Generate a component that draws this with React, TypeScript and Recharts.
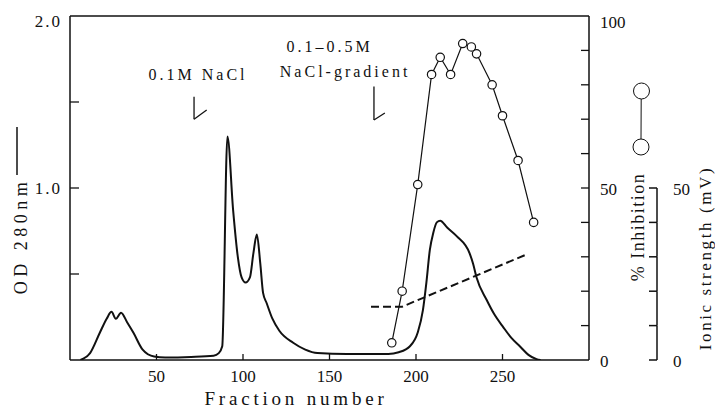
import React from 'react';
import { ComposedChart, Line, XAxis, YAxis, ReferenceLine, ReferenceDot } from 'recharts';

const FONT = '"Liberation Serif", "DejaVu Serif", serif';
const INK = '#111';

// ---- OD 280nm elution profile (solid line) ----
const odFraction = [6, 11.6, 17.3, 21.2, 24, 26.5, 29.5, 33, 36.6, 42, 48.6, 55, 70, 83, 86, 88, 91, 94.3, 97, 99.2, 101.5, 104, 106, 108, 110, 111.6, 113.7, 117, 121, 129, 136, 143, 160, 184, 190, 196.5, 201, 204, 206, 208, 210, 212, 214, 218, 223.5, 231, 233, 235, 240.8, 245, 250.5, 255, 260, 265, 269.7, 272];
const odValue = [0, 0.04, 0.16, 0.24, 0.28, 0.24, 0.275, 0.22, 0.16, 0.06, 0.02, 0.015, 0.018, 0.025, 0.04, 0.08, 1.3, 0.87, 0.6, 0.48, 0.45, 0.48, 0.62, 0.73, 0.56, 0.39, 0.33, 0.24, 0.17, 0.1, 0.06, 0.04, 0.035, 0.035, 0.045, 0.08, 0.16, 0.29, 0.45, 0.64, 0.74, 0.8, 0.81, 0.77, 0.72, 0.62, 0.56, 0.48, 0.35, 0.27, 0.19, 0.13, 0.08, 0.03, 0.005, 0];

// ---- % Inhibition (open circles) ----
const inhFraction = [186, 192, 201, 209, 214, 220, 227, 232, 235, 244, 250, 259, 268];
const inhValue = [5, 20, 51, 83, 88, 83, 92, 91, 89, 80, 71, 58, 40];

// ---- Ionic strength (dashed) ----
const ionFraction = [174, 192, 264];
const ionValue = [15.5, 15.5, 30.7];

// ---- axis ticks ----
const xTicks = [50, 100, 150, 200, 250];
const xTickLabels = ['50', '100', '150', '200', '250'];
const odTicks = [0, 0.5, 1, 1.5, 2];
const odTickLabels = ['', '', '1.0', '', '2.0'];
const inhTicks = [0, 10, 20, 30, 40, 50, 60, 70, 80, 90, 100];
const inhTickLabels = ['0', '', '', '', '', '50', '', '', '', '', '100'];
const ionTicks = [0, 10, 20, 30, 40, 50];
const ionTickLabels = ['0', '', '', '', '', '50'];

// ---- annotations (buffer changes) ----
const noteText = ['0.1M NaCl', '0.1–0.5M', 'NaCl-gradient'];
const noteFraction = [74, 150, 159];
const noteOD = [1.657, 1.822, 1.676];
const arrowFraction = [71.7, 175.7];
const arrowTopOD = [1.53, 1.59];
const arrowBottomOD = [1.4, 1.395];
const arrowHeadFraction = [79, 182];
const arrowHeadOD = [1.453, 1.436];

const odData = odFraction.map((f, i) => ({ f, od: odValue[i] }));
const inhData = inhFraction.map((f, i) => ({ f, inh: inhValue[i] }));
const ionData = ionFraction.map((f, i) => ({ f, ion: ionValue[i] }));

const W = 715;
const H = 408;
const M = { top: 16, right: 57, bottom: 47, left: 69 };
const PLOT_H = H - M.top - M.bottom - 1;

const textStyle = { fontFamily: FONT, fill: INK } as const;

const T = (props: any) => <text fontFamily={FONT} fill={INK} style={textStyle} {...props} />;

const XTick = (p: any) => {
  const { x, y, payload } = p;
  const i = xTicks.indexOf(payload.value);
  return (
    <g>
      <line x1={x} y1={y} x2={x} y2={y - 6} stroke={INK} strokeWidth={1.3} />
      <T x={x} y={y + 16} textAnchor="middle" dominantBaseline="central" fontSize={17}>
        {xTickLabels[i]}
      </T>
    </g>
  );
};

const OdTick = (p: any) => {
  const { x, y, payload } = p;
  const v = payload.value;
  const i = odTicks.indexOf(v);
  const label = odTickLabels[i];
  return (
    <g>
      {v > 0 && v < 2 && <line x1={x} y1={y} x2={x + 9} y2={y} stroke={INK} strokeWidth={1.3} />}
      {label && (
        <T x={x - 8} y={v === 2 ? y + 5 : y} textAnchor="end" dominantBaseline="central" fontSize={17} letterSpacing={2}>
          {label}
        </T>
      )}
    </g>
  );
};

const InhTick = (p: any) => {
  const { x, y, payload } = p;
  const v = payload.value;
  const i = inhTicks.indexOf(v);
  const label = inhTickLabels[i];
  return (
    <g>
      {v > 0 && v < 100 && <line x1={x} y1={y} x2={x - 8} y2={y} stroke={INK} strokeWidth={1.3} />}
      {label && (
        <T x={x + 11} y={v === 100 ? y + 6 : y + 1} textAnchor="start" dominantBaseline="central" fontSize={17}>
          {label}
        </T>
      )}
    </g>
  );
};

const IonTick = (p: any) => {
  const { x, y, payload } = p;
  const v = payload.value;
  const i = ionTicks.indexOf(v);
  if (i < 0) return <g />;
  const label = ionTickLabels[i];
  const step = (PLOT_H / 100) * 10;
  return (
    <g>
      <line x1={x} y1={y} x2={x - 8} y2={y} stroke={INK} strokeWidth={1.5} />
      {v < 50 && <line x1={x} y1={y} x2={x} y2={y - step} stroke={INK} strokeWidth={1.5} />}
      {label && (
        <T x={x + 16} y={y + 1} textAnchor="start" dominantBaseline="central" fontSize={17}>
          {label}
        </T>
      )}
    </g>
  );
};

const OpenCircle = (p: any) => {
  const { cx, cy } = p;
  if (cx == null || cy == null) return <g />;
  return <circle cx={cx} cy={cy} r={4.2} fill="#fff" stroke={INK} strokeWidth={1.2} />;
};

const noteLabel = (text: string) => (props: any) => {
  const vb = props.viewBox || {};
  return (
    <T x={vb.x} y={vb.y} textAnchor="middle" dominantBaseline="central" fontSize={16} letterSpacing={3}>
      {text}
    </T>
  );
};

export default function App() {
  return (
    <div style={{ position: 'absolute', left: 0, top: 0, width: W, height: H, background: '#fff' }}>
      <ComposedChart width={W} height={H} margin={M}>
        <XAxis
          type="number"
          dataKey="f"
          domain={[0, 300]}
          ticks={xTicks}
          interval={0}
          height={1}
          tickSize={0}
          tickMargin={0}
          tickLine={false}
          tick={(p: any) => <XTick {...p} />}
          axisLine={{ stroke: INK, strokeWidth: 1.5 }}
          allowDataOverflow
        />
        <YAxis
          yAxisId="od"
          orientation="left"
          width={1}
          domain={[0, 2]}
          ticks={odTicks}
          interval={0}
          tickSize={0}
          tickMargin={0}
          tickLine={false}
          tick={(p: any) => <OdTick {...p} />}
          axisLine={{ stroke: INK, strokeWidth: 1.5 }}
          allowDataOverflow
        />
        <YAxis
          yAxisId="inh"
          orientation="right"
          width={68}
          domain={[0, 100]}
          ticks={inhTicks}
          interval={0}
          tickSize={0}
          tickMargin={0}
          tickLine={false}
          tick={(p: any) => <InhTick {...p} />}
          axisLine={{ stroke: INK, strokeWidth: 1.5 }}
          allowDataOverflow
        />
        <YAxis
          yAxisId="ion"
          orientation="right"
          width={1}
          domain={[0, 100]}
          ticks={ionTicks}
          interval={0}
          tickSize={0}
          tickMargin={0}
          tickLine={false}
          tick={(p: any) => <IonTick {...p} />}
          axisLine={false}
          allowDataOverflow
        />
        <ReferenceLine yAxisId="od" y={2} stroke={INK} strokeWidth={1.5} />

        {arrowFraction.map((f, i) => (
          <ReferenceLine
            key={'av' + i}
            yAxisId="od"
            segment={[{ x: f, y: arrowTopOD[i] }, { x: f, y: arrowBottomOD[i] }]}
            stroke={INK}
            strokeWidth={1.3}
          />
        ))}
        {arrowFraction.map((f, i) => (
          <ReferenceLine
            key={'ah' + i}
            yAxisId="od"
            segment={[{ x: f, y: arrowBottomOD[i] }, { x: arrowHeadFraction[i], y: arrowHeadOD[i] }]}
            stroke={INK}
            strokeWidth={1.3}
          />
        ))}
        {noteText.map((t, i) => (
          <ReferenceDot
            key={'n' + i}
            yAxisId="od"
            x={noteFraction[i]}
            y={noteOD[i]}
            r={0}
            fill="none"
            stroke="none"
            label={noteLabel(t)}
          />
        ))}

        <Line
          yAxisId="od"
          data={odData}
          dataKey="od"
          type="monotone"
          stroke={INK}
          strokeWidth={2}
          dot={false}
          isAnimationActive={false}
        />
        <Line
          yAxisId="ion"
          data={ionData}
          dataKey="ion"
          type="linear"
          stroke={INK}
          strokeWidth={2}
          strokeDasharray="8 4"
          dot={false}
          isAnimationActive={false}
        />
        <Line
          yAxisId="inh"
          data={inhData}
          dataKey="inh"
          type="linear"
          stroke={INK}
          strokeWidth={1.2}
          dot={(p: any) => <OpenCircle key={'c' + p.index} {...p} />}
          isAnimationActive={false}
        />
      </ComposedChart>

      <svg width={W} height={H} style={{ position: 'absolute', left: 0, top: 0, pointerEvents: 'none' }}>
        <T x={21} y={236} transform="rotate(-90 21 236)" textAnchor="middle" dominantBaseline="central" fontSize={18} letterSpacing={4.5}>
          OD 280nm
        </T>
        <line x1={17} y1={127} x2={17} y2={175} stroke={INK} strokeWidth={1.5} />
        <T x={296} y={398} textAnchor="middle" dominantBaseline="central" fontSize={19} letterSpacing={3.8}>
          Fraction number
        </T>
        <T x={638} y={227} transform="rotate(-90 638 227)" textAnchor="middle" dominantBaseline="central" fontSize={18} letterSpacing={1.5}>
          % Inhibition
        </T>
        <T x={705} y={258} transform="rotate(-90 705 258)" textAnchor="middle" dominantBaseline="central" fontSize={17} letterSpacing={2.6}>
          Ionic strength (mV)
        </T>
        <circle cx={641.5} cy={91} r={8} fill="#fff" stroke={INK} strokeWidth={1} />
        <line x1={641.2} y1={99} x2={641} y2={139} stroke={INK} strokeWidth={1} />
        <circle cx={641} cy={147} r={8} fill="#fff" stroke={INK} strokeWidth={1} />
      </svg>
    </div>
  );
}
